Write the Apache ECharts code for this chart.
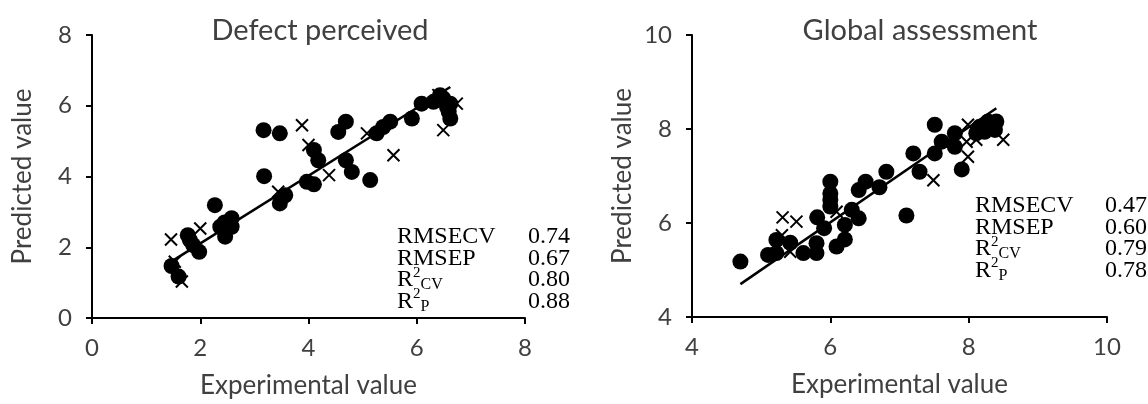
<!DOCTYPE html>
<html>
<head>
<meta charset="utf-8">
<script src="https://cdn.jsdelivr.net/npm/echarts@6/dist/echarts.min.js"></script>
<style>
  html, body { margin: 0; padding: 0; background: #fff; }
  #chart { width: 1148px; height: 404px; }
</style>
</head>
<body>
<div id="chart"></div>
<script>
const chart = echarts.init(document.getElementById("chart"));

// ---- Defect perceived (left panel) ----
const defectCalX = [1.47, 1.60, 1.77, 1.81, 1.87, 1.98, 2.27, 2.37, 2.45, 2.46, 2.49, 2.58, 2.58,
  3.17, 3.47, 3.18, 3.47, 3.57, 3.97, 4.10, 4.10, 4.18, 4.55, 4.69, 4.69, 4.80, 5.14,
  5.26, 5.38, 5.51, 5.91, 6.09, 6.31, 6.43, 6.49, 6.62, 6.59, 6.62, 6.56];
const defectCalY = [1.47, 1.17, 2.34, 2.20, 2.06, 1.87, 3.19, 2.58, 2.70, 2.30, 2.53, 2.82, 2.58,
  5.31, 5.22, 4.01, 3.24, 3.47, 3.85, 4.75, 3.78, 4.46, 5.26, 5.55, 4.46, 4.13, 3.90,
  5.22, 5.40, 5.55, 5.64, 6.06, 6.11, 6.30, 6.21, 6.06, 5.83, 5.64, 5.96];
const defectValX = [1.46, 1.66, 1.53, 2.00, 3.44, 3.88, 4.00, 4.38, 5.08, 5.57, 6.49, 6.74, 6.40];
const defectValY = [2.22, 1.03, 1.59, 2.53, 3.57, 5.45, 4.89, 4.04, 5.22, 4.60, 5.31, 6.06, 6.30];
const defectFitX = [1.50, 6.62];
const defectFitY = [1.63, 6.53];
const defectStats = ["0.74", "0.67", "0.80", "0.88"];

// ---- Global assessment (right panel) ----
const globalCalX = [4.70, 5.10, 5.22, 5.22, 5.42, 5.61, 5.80, 5.80, 5.81, 5.91, 6.00, 6.00, 6.00, 6.00,
  6.09, 6.21, 6.21, 6.31, 6.41, 6.41, 6.51, 6.71, 6.81, 7.10, 7.20, 7.29, 7.51, 7.51, 7.61,
  7.80, 7.80, 7.90, 8.16, 8.28, 8.40, 8.23, 8.38, 8.11, 8.33];
const globalCalY = [5.18, 5.32, 5.36, 5.64, 5.58, 5.36, 5.57, 5.36, 6.12, 5.89, 6.88, 6.63, 6.49, 6.35,
  5.50, 5.65, 5.96, 6.28, 6.10, 6.70, 6.88, 6.76, 7.09, 6.16, 7.48, 7.09, 8.09, 7.48, 7.73,
  7.91, 7.62, 7.14, 8.05, 8.16, 8.16, 7.94, 7.98, 7.91, 8.09];
const globalValX = [5.31, 5.51, 5.30, 5.42, 6.09, 7.49, 7.99, 7.97, 8.11, 7.99, 8.50];
const globalValY = [6.12, 6.03, 5.74, 5.39, 6.24, 6.91, 7.41, 7.73, 7.77, 8.09, 7.77];
const globalFitX = [4.70, 8.40];
const globalFitY = [4.70, 8.44];
const globalStats = ["0.47", "0.60", "0.79", "0.78"];

const statLabels = ["{n|RMSECV}", "{n|RMSEP}", "{n|R}{sup|2}{sub|CV}", "{n|R}{sup|2}{sub|P}"];

const TXT = "#404040";
const SANS = "Lato";
const SERIF = "Liberation Serif";

const zip = (xs, ys) => xs.map((x, i) => [x, ys[i]]);

function axisBase(extra) {
  return Object.assign({
    type: "value",
    interval: 2,
    splitLine: { show: false },
    axisLine: { show: true, onZero: false, lineStyle: { color: "#000", width: 2 } },
    axisTick: { show: true, length: 6, lineStyle: { color: "#000", width: 2 } },
    axisLabel: { color: TXT, fontFamily: SANS, fontSize: 24, margin: 20 },
    nameLocation: "middle",
    nameTextStyle: { color: TXT, fontFamily: SANS, fontSize: 26 }
  }, extra);
}

const circleStyle = { color: "#000", opacity: 1 };
const crossStyle = { color: "rgba(0,0,0,0)", borderColor: "#000", borderWidth: 2, opacity: 1 };
const CROSS = "path://M0,0L10,10M0,10L10,0";

function panelSeries(idx, calX, calY, valX, valY, fitX, fitY) {
  return [
    {
      type: "scatter", xAxisIndex: idx, yAxisIndex: idx,
      symbol: CROSS, symbolSize: 12, itemStyle: crossStyle,
      data: zip(valX, valY), z: 2
    },
    {
      type: "scatter", xAxisIndex: idx, yAxisIndex: idx,
      symbol: "circle", symbolSize: 16, itemStyle: circleStyle,
      data: zip(calX, calY), z: 3
    },
    {
      type: "line", xAxisIndex: idx, yAxisIndex: idx,
      showSymbol: false, symbol: "none",
      lineStyle: { color: "#000", width: 2.5 },
      data: zip(fitX, fitY), z: 4
    }
  ];
}

function statsGraphics(x0, x1, yTop, values) {
  const rich = {
    n: { fontFamily: SERIF, fontSize: 24, fill: "#000" },
    sup: { fontFamily: SERIF, fontSize: 15, fill: "#000", padding: [0, 0, 14, 0] },
    sub: { fontFamily: SERIF, fontSize: 16, fill: "#000", padding: [10, 0, 0, 0] }
  };
  const out = [];
  statLabels.forEach((lab, i) => {
    const y = yTop + i * 21.5;
    out.push({
      type: "text", x: x0, y: y, silent: true,
      style: { text: lab, rich: rich, textVerticalAlign: "middle", textAlign: "left" }
    });
    out.push({
      type: "text", x: x1, y: y, silent: true,
      style: { text: values[i], font: "24px '" + SERIF + "'", fill: "#000",
        textVerticalAlign: "middle", textAlign: "left" }
    });
  });
  return out;
}

chart.setOption({
  animation: false,
  grid: [
    { left: 92, top: 35, width: 433, height: 283 },
    { left: 692, top: 35, width: 415, height: 282 }
  ],
  xAxis: [
    axisBase({ gridIndex: 0, min: 0, max: 8, name: "Experimental value", nameGap: 55,
      axisLabel: { color: TXT, fontFamily: SANS, fontSize: 24, margin: 18 } }),
    axisBase({ gridIndex: 1, min: 4, max: 10, name: "Experimental value", nameGap: 55,
      axisLabel: { color: TXT, fontFamily: SANS, fontSize: 24, margin: 18 } })
  ],
  yAxis: [
    axisBase({ gridIndex: 0, min: 0, max: 8, name: "Predicted value", nameGap: 56 }),
    axisBase({ gridIndex: 1, min: 4, max: 10, name: "Predicted value", nameGap: 56 })
  ],
  series: [
    ...panelSeries(0, defectCalX, defectCalY, defectValX, defectValY, defectFitX, defectFitY),
    ...panelSeries(1, globalCalX, globalCalY, globalValX, globalValY, globalFitX, globalFitY)
  ],
  graphic: [
    { type: "text", x: 320, y: 31, silent: true,
      style: { text: "Defect perceived", font: "29px " + SANS, fill: TXT,
        textAlign: "center", textVerticalAlign: "middle" } },
    { type: "text", x: 920, y: 31, silent: true,
      style: { text: "Global assessment", font: "29px " + SANS, fill: TXT,
        textAlign: "center", textVerticalAlign: "middle" } },
    ...statsGraphics(397, 528, 237, defectStats),
    ...statsGraphics(975, 1105, 206, globalStats)
  ]
});
</script>
</body>
</html>
